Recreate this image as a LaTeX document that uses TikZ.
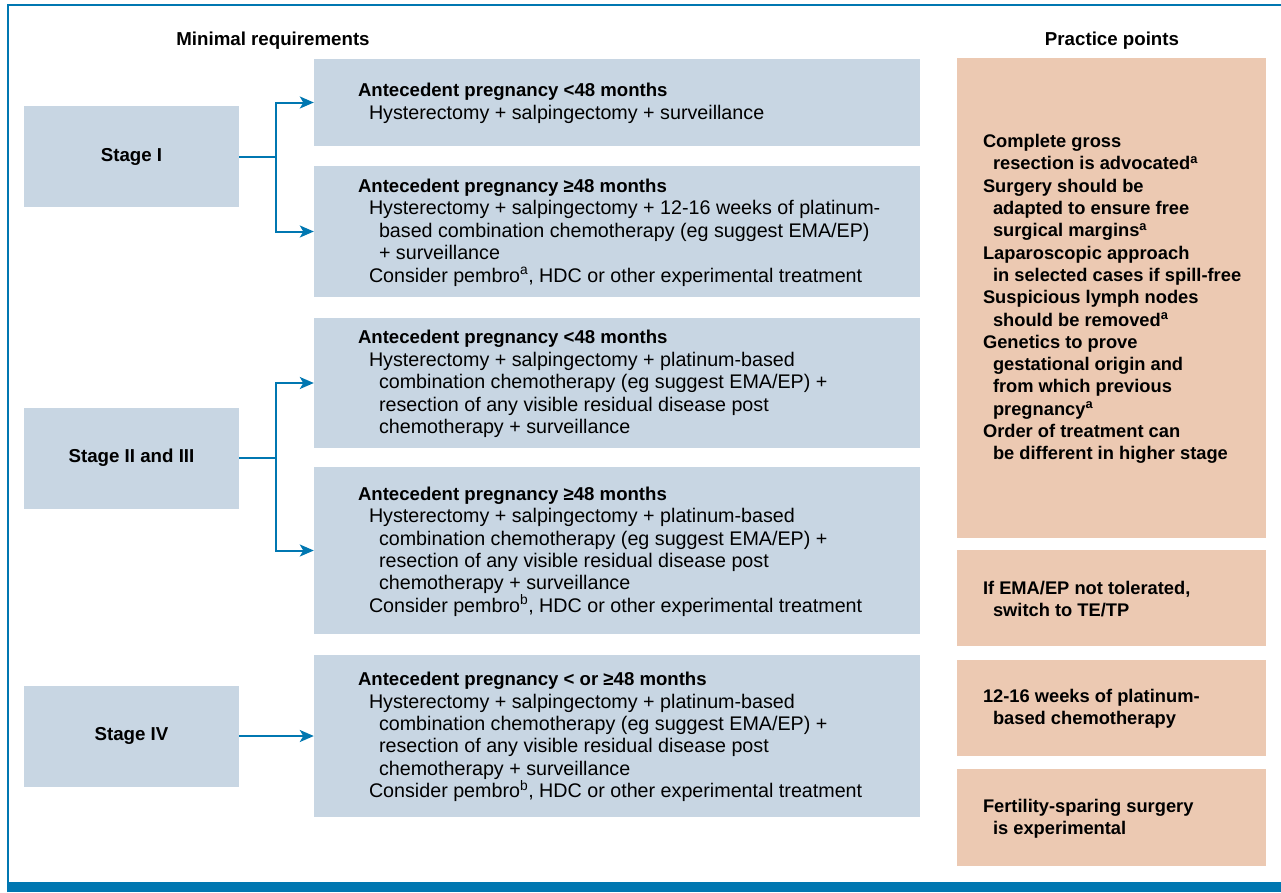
\documentclass[tikz,border=0pt]{standalone}
\usepackage{fontspec}
\setmainfont{Liberation Sans}
\usetikzlibrary{arrows.meta}
\definecolor{bluegray}{HTML}{C8D6E3}
\definecolor{peach}{HTML}{ECC9B2}
\definecolor{lineblue}{HTML}{0077B1}
\begin{document}
\begin{tikzpicture}[x=1pt,y=-1pt,
  bbox/.style={fill=bluegray, draw=none, inner sep=0pt},
  obox/.style={fill=peach, draw=none, inner sep=0pt, minimum width=309pt},
  stagebox/.style={fill=bluegray, draw=none, inner sep=0pt, minimum width=215pt, minimum height=101pt, font=\fontsize{18.7}{22}\selectfont\bfseries},
  btext/.style={anchor=west, inner sep=0pt, align=left, font=\fontsize{19.7}{22.4}\selectfont},
  otext/.style={anchor=west, inner sep=0pt, align=left, font=\fontsize{18.3}{22.3}\selectfont\bfseries},
  head/.style={inner sep=0pt, font=\fontsize{18.7}{22}\selectfont\bfseries},
  conn/.style={draw=lineblue, line width=2pt},
  arrowline/.style={conn, -{Stealth[length=14pt,width=12pt,inset=3.5pt]}}
]
\useasboundingbox (0,0) rectangle (1281,892);
% frame
\draw[lineblue, line width=1.5pt] (8,892) -- (8,5) -- (1281,5);
\fill[lineblue] (7.25,882) rectangle (1281,892);

% headings
\node[head] (h1) at (273,41) {Minimal requirements};
\node[head] (h2) at (1112,41) {Practice points};

% stage boxes
\node[stagebox] (s1) at (131.5,156.5) {Stage I};
\node[stagebox] (s2) at (131.5,458) {Stage II and III};
\node[stagebox] (s4) at (131.5,736) {Stage IV};

% requirement boxes
\node[bbox, minimum width=606pt, minimum height=87pt] (b1) at (617,102.5) {};
\node[bbox, minimum width=606pt, minimum height=131pt] (b2) at (617,231.5) {};
\node[bbox, minimum width=606pt, minimum height=130pt] (b3) at (617,383) {};
\node[bbox, minimum width=606pt, minimum height=167pt] (b4) at (617,550.5) {};
\node[bbox, minimum width=606pt, minimum height=162pt] (b5) at (617,736) {};

\node[btext] (t1) at ([xshift=44pt,yshift=-1pt]b1.west) {%
{\bfseries\fontsize{18.6}{22.4}\selectfont Antecedent pregnancy <48 months}\\
\hspace*{11pt}Hysterectomy + salpingectomy + surveillance};

\node[btext] (t2) at ([xshift=44pt,yshift=-1pt]b2.west) {%
{\bfseries\fontsize{18.6}{22.4}\selectfont Antecedent pregnancy ≥48 months}\\
\hspace*{11pt}Hysterectomy + salpingectomy + 12-16 weeks of platinum-\\
\hspace*{21pt}based combination chemotherapy (eg suggest EMA/EP)\\
\hspace*{21pt}+ surveillance\\
\hspace*{11pt}Consider pembro\textsuperscript{a}, HDC or other experimental treatment};

\node[btext] (t3) at ([xshift=44pt,yshift=-1pt]b3.west) {%
{\bfseries\fontsize{18.6}{22.4}\selectfont Antecedent pregnancy <48 months}\\
\hspace*{11pt}Hysterectomy + salpingectomy + platinum-based\\
\hspace*{21pt}combination chemotherapy (eg suggest EMA/EP) +\\
\hspace*{21pt}resection of any visible residual disease post\\
\hspace*{21pt}chemotherapy + surveillance};

\node[btext] (t4) at ([xshift=44pt,yshift=-1pt]b4.west) {%
{\bfseries\fontsize{18.6}{22.4}\selectfont Antecedent pregnancy ≥48 months}\\
\hspace*{11pt}Hysterectomy + salpingectomy + platinum-based\\
\hspace*{21pt}combination chemotherapy (eg suggest EMA/EP) +\\
\hspace*{21pt}resection of any visible residual disease post\\
\hspace*{21pt}chemotherapy + surveillance\\
\hspace*{11pt}Consider pembro\textsuperscript{b}, HDC or other experimental treatment};

\node[btext] (t5) at ([xshift=44pt,yshift=-1pt]b5.west) {%
{\bfseries\fontsize{18.6}{22.4}\selectfont Antecedent pregnancy < or ≥48 months}\\
\hspace*{11pt}Hysterectomy + salpingectomy + platinum-based\\
\hspace*{21pt}combination chemotherapy (eg suggest EMA/EP) +\\
\hspace*{21pt}resection of any visible residual disease post\\
\hspace*{21pt}chemotherapy + surveillance\\
\hspace*{11pt}Consider pembro\textsuperscript{b}, HDC or other experimental treatment};

% practice point boxes
\node[obox, minimum height=480pt] (o1) at (1111.5,298) {};
\node[obox, minimum height=96pt] (o2) at (1111.5,598) {};
\node[obox, minimum height=96pt] (o3) at (1111.5,708) {};
\node[obox, minimum height=97pt] (o4) at (1111.5,817.5) {};

\node[otext] (p1) at ([xshift=26pt,yshift=-1pt]o1.west) {%
Complete gross\\
\hspace*{10pt}resection is advocated\textsuperscript{a}\\
Surgery should be\\
\hspace*{10pt}adapted to ensure free\\
\hspace*{10pt}surgical margins\textsuperscript{a}\\
Laparoscopic approach\\
\hspace*{10pt}in selected cases if spill-free\\
Suspicious lymph nodes\\
\hspace*{10pt}should be removed\textsuperscript{a}\\
Genetics to prove\\
\hspace*{10pt}gestational origin and\\
\hspace*{10pt}from which previous\\
\hspace*{10pt}pregnancy\textsuperscript{a}\\
Order of treatment can\\
\hspace*{10pt}be different in higher stage};

\node[otext] (p2) at ([xshift=26pt,yshift=-1pt]o2.west) {%
If EMA/EP not tolerated,\\
\hspace*{10pt}switch to TE/TP};

\node[otext] (p3) at ([xshift=26pt,yshift=-1pt]o3.west) {%
12-16 weeks of platinum-\\
\hspace*{10pt}based chemotherapy};

\node[otext] (p4) at ([xshift=26pt,yshift=-1pt]o4.west) {%
Fertility-sparing surgery\\
\hspace*{10pt}is experimental};

% connectors
\coordinate (j1) at (276,156.5);
\coordinate (j2) at (276,458);
\draw[conn] (s1.east) -- (j1);
\draw[arrowline] (j1) |- (b1.west);
\draw[arrowline] (j1) |- (b2.west);
\draw[conn] (s2.east) -- (j2);
\draw[arrowline] (j2) |- (b3.west);
\draw[arrowline] (j2) |- (b4.west);
\draw[arrowline] (s4.east) -- (s4.east -| b5.west);
\end{tikzpicture}
\end{document}
